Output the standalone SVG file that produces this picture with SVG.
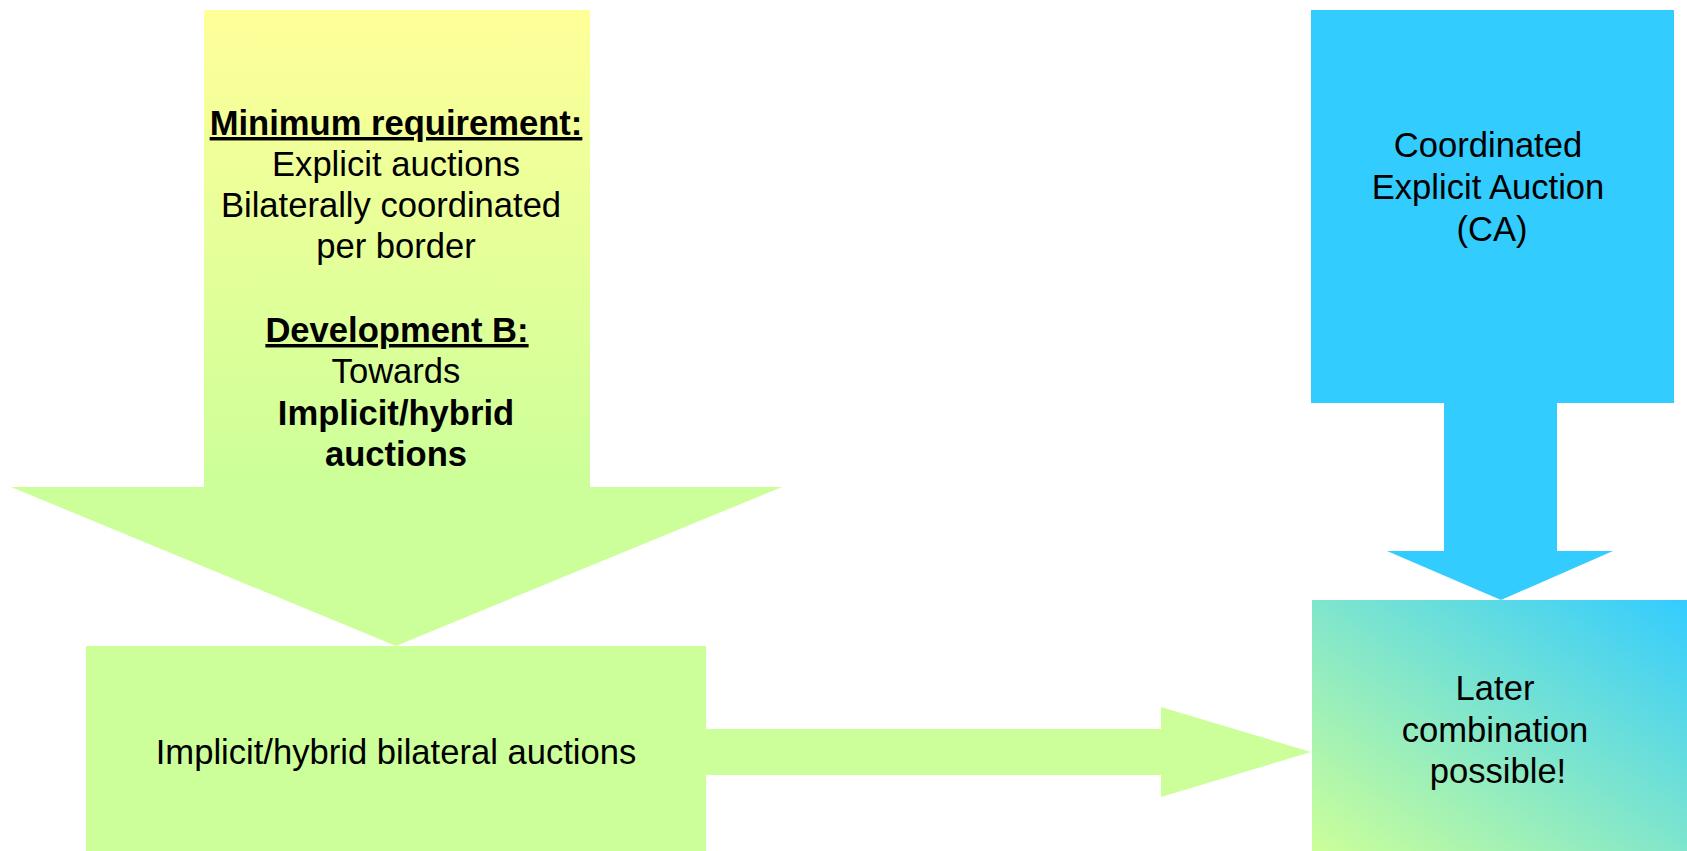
<svg xmlns="http://www.w3.org/2000/svg" width="1687" height="851" viewBox="0 0 1687 851">
<defs>
<linearGradient id="yg" gradientUnits="userSpaceOnUse" x1="0" y1="10" x2="0" y2="646">
<stop offset="0" stop-color="#FFFF99"/>
<stop offset="0.75" stop-color="#CCFF99"/>
<stop offset="1" stop-color="#CCFF99"/>
</linearGradient>
<linearGradient id="bg" x1="0" y1="1" x2="1" y2="0">
<stop offset="0" stop-color="#CCFF99"/>
<stop offset="1" stop-color="#33CCFF"/>
</linearGradient>
<style>
.t{font-family:"Liberation Sans",Arial,sans-serif;font-size:34.6px;fill:#000;text-anchor:middle}
.b{font-weight:bold}
.u{text-decoration:underline}
</style>
</defs>
<rect width="1687" height="851" fill="#fff"/>
<g id="connectors">
<path d="M706,729 L1161,729 L1161,707 L1311,752 L1161,797 L1161,775 L706,775 Z" fill="#CCFF99"/>
<path d="M1444,403 L1557,403 L1557,551 L1613,551 L1501,600 L1387,551 L1444,551 Z" fill="#33CCFF"/>
</g>
<g id="requirement-arrow">
<path d="M204,10 L590,10 L590,487 L782,487 L396,646 L11,487 L204,487 Z" fill="url(#yg)"/>
<text class="t b u" x="396" y="135">Minimum requirement:</text>
<text class="t" x="396" y="176">Explicit auctions</text>
<text class="t" x="391" y="217">Bilaterally coordinated</text>
<text class="t" x="396" y="258">per border</text>
<text class="t b u" x="397" y="342">Development B:</text>
<text class="t" x="396" y="383">Towards</text>
<text class="t b" x="396" y="425">Implicit/hybrid</text>
<text class="t b" x="396" y="466">auctions</text>
</g>
<g id="implicit-hybrid">
<rect x="86" y="646" width="620" height="205" fill="#CCFF99"/>
<text class="t" x="396" y="764">Implicit/hybrid bilateral auctions</text>
</g>
<g id="coordinated-explicit">
<rect x="1311" y="10" width="363" height="393" fill="#33CCFF"/>
<text class="t" x="1488" y="157">Coordinated</text>
<text class="t" x="1488" y="199">Explicit Auction</text>
<text class="t" x="1492" y="241">(CA)</text>
</g>
<g id="later-combination">
<rect x="1312" y="600" width="375" height="251" fill="url(#bg)"/>
<text class="t" x="1495" y="700">Later</text>
<text class="t" x="1495" y="742">combination</text>
<text class="t" x="1498" y="783">possible!</text>
</g>
</svg>
